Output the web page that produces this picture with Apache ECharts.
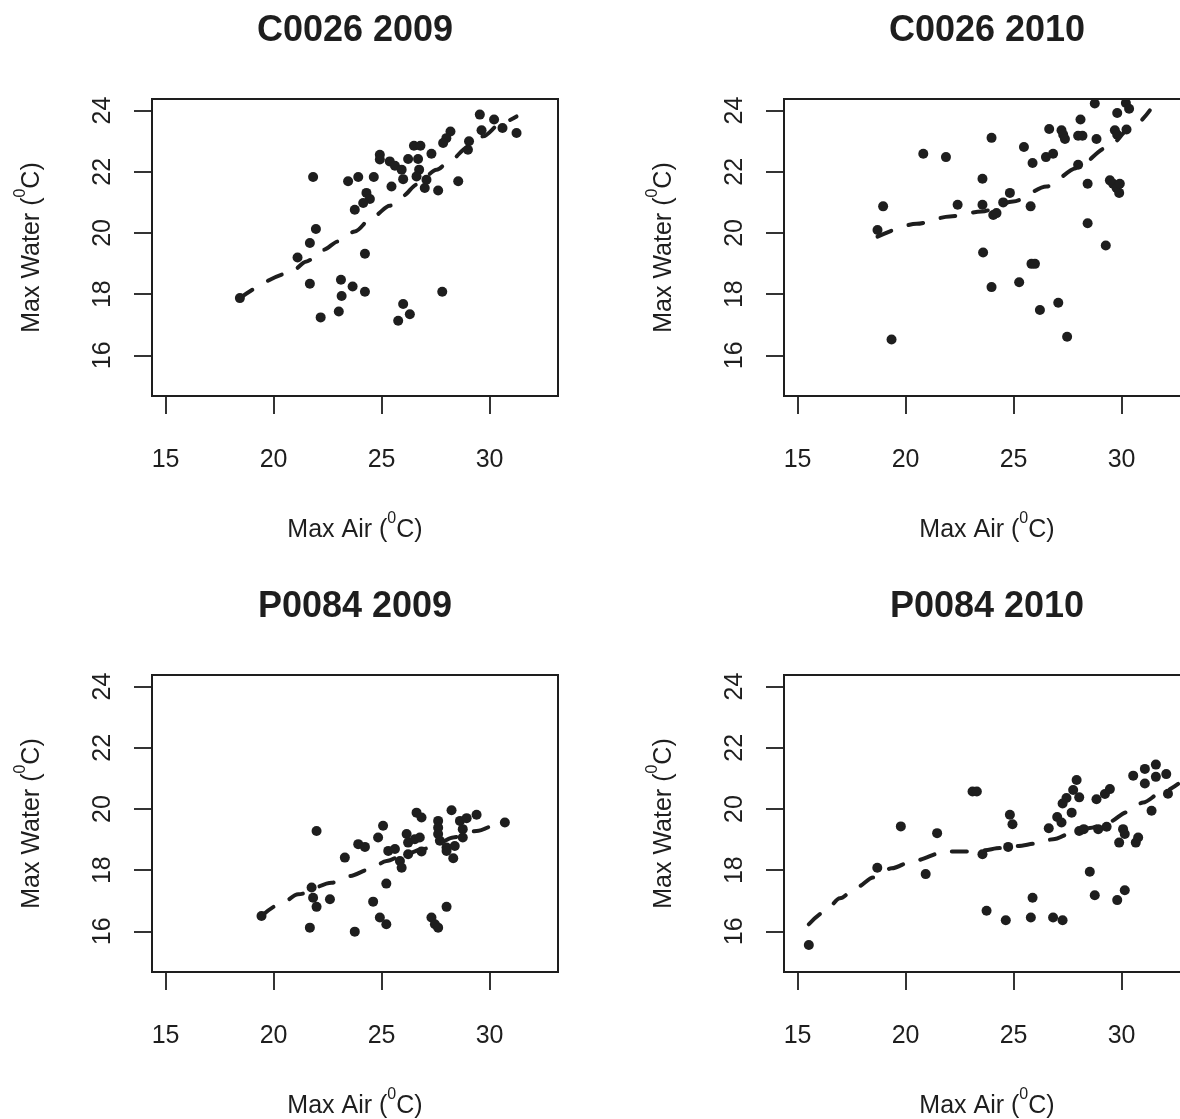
<!DOCTYPE html>
<html>
<head>
<meta charset="utf-8">
<script src="https://cdn.jsdelivr.net/npm/echarts@6/dist/echarts.min.js"></script>
<style>
  html, body { margin: 0; padding: 0; background: #fff; }
  #chart { width: 1180px; height: 1119px; }
</style>
</head>
<body>
<div id="chart"></div>
<script>
// panel titles and tick values
const panelTitles = ['C0026 2009', 'C0026 2010', 'P0084 2009', 'P0084 2010']
const airTicks = [15, 20, 25, 30]
const waterTicks = [16, 18, 20, 22, 24]

// C0026 2009 - daily max air vs max water
const c26y09Air = [18.44, 21.11, 29.55, 30.21, 30.60, 31.25, 29.63, 29.05, 29.00, 28.19, 28.00, 27.85, 26.50, 26.80, 26.23, 26.69, 27.31, 24.92, 24.92, 25.38, 25.62, 25.93, 26.74, 26.00, 25.46, 26.62, 27.08, 27.00, 27.62, 28.55, 24.64, 23.92, 23.45, 21.83, 24.30, 24.46, 24.15, 23.76, 21.96, 21.68, 24.23, 21.68, 23.12, 23.15, 23.66, 24.23, 22.18, 23.02, 26.00, 26.31, 25.77, 27.81]
const c26y09Water = [17.87, 19.20, 23.87, 23.71, 23.43, 23.27, 23.36, 23.00, 22.72, 23.32, 23.10, 22.94, 22.85, 22.85, 22.42, 22.42, 22.59, 22.56, 22.40, 22.34, 22.20, 22.07, 22.07, 21.76, 21.52, 21.85, 21.74, 21.47, 21.39, 21.69, 21.83, 21.83, 21.69, 21.83, 21.31, 21.11, 20.98, 20.76, 20.13, 19.67, 19.32, 18.34, 18.47, 17.94, 18.25, 18.08, 17.24, 17.43, 17.68, 17.34, 17.13, 18.08]
// smoothed trend (dashed)
const c26y09FitAir = [18.44, 20.75, 21.53, 22.30, 22.99, 23.76, 24.61, 25.38, 26.00, 26.62, 27.55, 28.24, 28.94, 29.70, 30.56, 31.25]
const c26y09FitWater = [17.87, 18.69, 19.07, 19.45, 19.72, 20.05, 20.54, 20.89, 21.22, 21.58, 22.07, 22.40, 22.78, 23.16, 23.60, 23.81]

// C0026 2010
const c26y10Air = [18.96, 18.70, 19.35, 20.82, 21.87, 22.41, 23.98, 23.56, 23.56, 24.06, 24.21, 23.59, 23.98, 24.83, 24.52, 25.48, 25.88, 25.79, 25.26, 25.83, 25.99, 26.22, 27.07, 27.48, 26.65, 26.50, 26.83, 27.22, 27.30, 27.38, 28.10, 27.99, 28.19, 27.99, 28.43, 28.43, 28.76, 28.84, 29.27, 29.46, 29.61, 29.77, 29.89, 29.92, 29.80, 29.69, 29.80, 30.23, 30.20, 30.35]
const c26y10Water = [20.87, 20.10, 16.52, 22.59, 22.48, 20.92, 23.11, 21.77, 20.92, 20.59, 20.65, 19.36, 18.23, 21.31, 21.00, 22.81, 22.29, 20.87, 18.39, 18.99, 18.99, 17.48, 17.72, 16.61, 23.40, 22.48, 22.59, 23.36, 23.21, 23.07, 23.71, 23.18, 23.18, 22.23, 21.61, 20.32, 24.23, 23.07, 19.59, 21.72, 21.61, 21.47, 21.31, 21.61, 23.92, 23.36, 23.21, 23.38, 24.25, 24.06]
const c26y10FitAir = [18.70, 20.51, 22.05, 23.52, 24.98, 26.53, 27.92, 29.31, 30.54, 31.31]
const c26y10FitWater = [19.88, 20.30, 20.54, 20.70, 21.03, 21.52, 22.12, 22.78, 23.49, 24.01]

// P0084 2009
const p84y09Air = [19.44, 21.99, 21.76, 21.83, 21.99, 22.61, 21.68, 23.76, 23.30, 23.92, 24.23, 24.84, 25.07, 25.22, 24.61, 24.92, 25.22, 25.31, 25.62, 25.85, 25.93, 26.16, 26.23, 26.23, 26.54, 26.77, 26.85, 26.62, 26.85, 27.31, 27.47, 27.62, 28.01, 27.62, 27.62, 27.62, 27.70, 28.01, 28.01, 28.32, 28.24, 28.63, 28.76, 28.76, 28.94, 29.40, 30.71, 28.39]
const p84y09Water = [16.50, 19.28, 17.43, 17.10, 16.80, 17.05, 16.12, 15.99, 18.41, 18.85, 18.76, 19.07, 19.45, 17.56, 16.97, 16.45, 16.23, 18.63, 18.69, 18.30, 18.08, 19.18, 18.90, 18.52, 19.01, 19.07, 18.61, 19.88, 19.72, 16.45, 16.23, 16.12, 16.80, 19.61, 19.39, 19.18, 18.96, 18.74, 18.63, 18.39, 19.96, 19.61, 19.34, 19.07, 19.70, 19.81, 19.56, 18.79]
const p84y09FitAir = [19.44, 20.29, 21.14, 22.69, 23.53, 24.46, 25.23, 26.16, 26.93, 27.70, 28.31, 29.40, 30.17]
const p84y09FitWater = [16.50, 16.88, 17.21, 17.59, 17.81, 18.03, 18.30, 18.54, 18.69, 18.90, 19.07, 19.28, 19.48]

// P0084 2010
const p84y10Air = [15.52, 18.69, 19.78, 20.93, 21.46, 23.10, 23.30, 23.56, 23.75, 24.64, 24.75, 24.83, 24.95, 25.80, 25.88, 26.63, 26.83, 27.27, 27.02, 27.22, 27.27, 27.45, 27.69, 27.76, 27.92, 28.04, 28.04, 28.25, 28.53, 28.76, 28.84, 28.92, 29.31, 29.23, 29.46, 29.80, 30.15, 29.89, 30.07, 30.15, 30.66, 30.77, 30.54, 31.08, 31.08, 31.59, 31.59, 31.39, 32.07, 32.15]
const p84y10Water = [15.55, 18.08, 19.43, 17.87, 19.21, 20.57, 20.57, 18.52, 16.67, 16.36, 18.76, 19.81, 19.50, 16.45, 17.10, 19.37, 16.45, 16.36, 19.74, 19.56, 20.18, 20.36, 19.88, 20.62, 20.95, 20.38, 19.28, 19.34, 17.95, 17.18, 20.32, 19.34, 19.42, 20.49, 20.65, 17.02, 17.34, 18.90, 19.34, 19.18, 18.90, 19.07, 21.09, 21.31, 20.83, 21.45, 21.05, 19.94, 21.14, 20.50]
const p84y10FitAir = [15.52, 16.26, 16.96, 17.76, 18.50, 19.35, 20.35, 21.90, 22.75, 23.59, 24.37, 25.21, 26.06, 26.83, 27.76, 28.53, 29.46, 30.23, 31.00, 31.85, 32.62]
const p84y10FitWater = [16.23, 16.64, 17.08, 17.45, 17.76, 18.06, 18.30, 18.61, 18.61, 18.65, 18.72, 18.79, 18.87, 19.01, 19.23, 19.38, 19.59, 19.89, 20.21, 20.54, 20.82]

const panels = [
  { air: c26y09Air, water: c26y09Water, fitAir: c26y09FitAir, fitWater: c26y09FitWater },
  { air: c26y10Air, water: c26y10Water, fitAir: c26y10FitAir, fitWater: c26y10FitWater },
  { air: p84y09Air, water: p84y09Water, fitAir: p84y09FitAir, fitWater: p84y09FitWater },
  { air: p84y10Air, water: p84y10Water, fitAir: p84y10FitAir, fitWater: p84y10FitWater }
]

const ink = '#1e1e1e'
const font = '"Liberation Sans", Arial, Helvetica, sans-serif'
// plot box corners (left, top); right column runs off the page like the original
const boxes = [[152, 99], [784, 99], [152, 675], [784, 675]]
const boxW = 406
const boxH = 297

const zip = (a, b) => a.map((v, i) => [v, b[i]])

// superscript "0" in the unit
const supRich = {
  s: { fontSize: 16, verticalAlign: 'top', lineHeight: 38, color: ink, fontFamily: font }
}

const chart = echarts.init(document.getElementById('chart'), null, { renderer: 'canvas' })

const option = {
  animation: false,
  backgroundColor: '#fff',
  title: panelTitles.map((t, i) => ({
    text: t,
    left: boxes[i][0] + boxW / 2,
    top: boxes[i][1] - 68,
    textAlign: 'center',
    textVerticalAlign: 'middle',
    padding: 0,
    textStyle: { fontSize: 36, fontWeight: 'bold', color: ink, fontFamily: font }
  })),
  grid: boxes.map((b) => ({
    left: b[0],
    top: b[1],
    width: boxW,
    height: boxH,
    show: true,
    borderColor: ink,
    borderWidth: 2,
    outerBoundsMode: 'none',
    containLabel: false
  })),
  xAxis: boxes.map((b, i) => ({
    gridIndex: i,
    type: 'value',
    min: 14.37,
    max: 33.17,
    axisLine: { show: false },
    splitLine: { show: false },
    axisTick: { show: true, length: 18, customValues: airTicks, lineStyle: { color: ink, width: 1.8 } },
    axisLabel: { customValues: airTicks, margin: 52, fontSize: 25, color: ink, fontFamily: font },
    name: 'Max Air ({s|0}C)',
    nameLocation: 'middle',
    nameGap: 115,
    nameTextStyle: { fontSize: 25, color: ink, fontFamily: font, rich: supRich }
  })),
  yAxis: boxes.map((b, i) => ({
    gridIndex: i,
    type: 'value',
    min: 14.67,
    max: 24.38,
    axisLine: { show: false },
    splitLine: { show: false },
    axisTick: { show: true, length: 18, customValues: waterTicks, lineStyle: { color: ink, width: 1.8 } },
    axisLabel: { customValues: waterTicks, rotate: 90, margin: 36, fontSize: 25, color: ink, fontFamily: font },
    name: 'Max Water ({s|0}C)',
    nameLocation: 'middle',
    nameRotate: 90,
    nameGap: 101,
    nameTextStyle: { fontSize: 25, color: ink, fontFamily: font, rich: supRich }
  })),
  series: []
}

panels.forEach((p, i) => {
  // points
  option.series.push({
    type: 'scatter',
    xAxisIndex: i,
    yAxisIndex: i,
    data: zip(p.air, p.water),
    symbol: 'circle',
    symbolSize: 10,
    itemStyle: { color: ink, opacity: 1 },
    silent: true
  })
  // dashed smooth fit
  option.series.push({
    type: 'line',
    xAxisIndex: i,
    yAxisIndex: i,
    data: zip(p.fitAir, p.fitWater),
    showSymbol: false,
    smooth: 0.3,
    smoothMonotone: 'x',
    lineStyle: { color: ink, width: 4, type: [15, 18], cap: 'round' },
    silent: true
  })
})

chart.setOption(option)
</script>
</body>
</html>
